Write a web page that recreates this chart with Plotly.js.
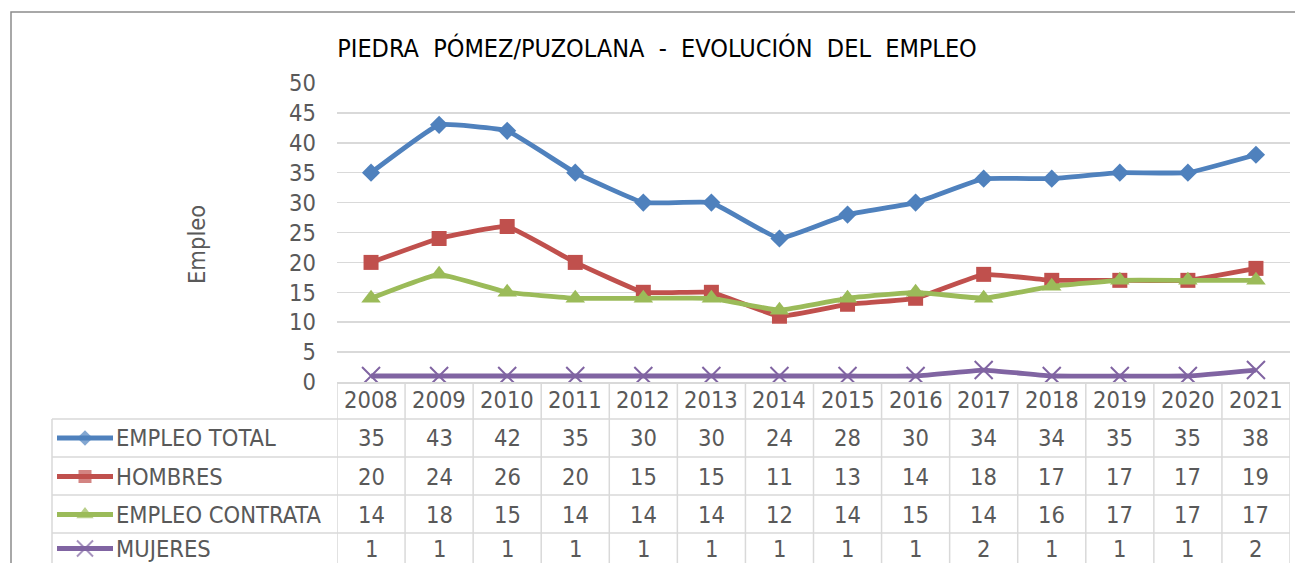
<!DOCTYPE html>
<html><head><meta charset="utf-8">
<script src="https://cdn.plot.ly/plotly-3.0.1.min.js"></script>
<style>html,body{margin:0;padding:0;background:#fff}</style>
</head><body><div id="chart" style="width:1295px;height:563px"></div>
<script>
const years = ['2008','2009','2010','2011','2012','2013','2014','2015','2016','2017','2018','2019','2020','2021'];
const empleoTotal    = [35,43,42,35,30,30,24,28,30,34,34,35,35,38];
const hombres        = [20,24,26,20,15,15,11,13,14,18,17,17,17,19];
const empleoContrata = [14,18,15,14,14,14,12,14,15,14,16,17,17,17];
const mujeres        = [1,1,1,1,1,1,1,1,1,2,1,1,1,2];
const seriesNames  = ['EMPLEO TOTAL','HOMBRES','EMPLEO CONTRATA','MUJERES'];
const seriesValues = [empleoTotal, hombres, empleoContrata, mujeres];
const seriesColors = ['#4f81bd','#c0504d','#9bbb59','#8064a2'];
const seriesSymbols = ['diamond','square','triangle-up','x-thin'];
const seriesSizes = [14,15,17,18];
const titleText = 'PIEDRA\u00a0 PÓMEZ/PUZOLANA\u00a0 -\u00a0 EVOLUCIÓN\u00a0 DEL\u00a0 EMPLEO';
const yTitle = 'Empleo';

const W = 1295, H = 563;
const plotL = 337, plotR = 1290, plotT = 83, plotB = 382;
const rowLines = [419, 457, 495, 533];
const rowCenters = [400, 438, 476.5, 514.5, 548.5];
const tableLeft = 52;
const FONT = '"DejaVu Sans Condensed", "DejaVu Sans", sans-serif';
const TXT = '#595959';
const GRID = '#d9d9d9';
const FS = 23.5;

const traces = [];
seriesNames.forEach((n, k) => {
  const isX = seriesSymbols[k] === 'x-thin';
  traces.push({
    x: years, y: seriesValues[k], name: n, type: 'scatter', mode: 'lines+markers',
    xaxis: 'x', yaxis: 'y',
    line: {color: seriesColors[k], width: 4.8, shape: 'spline', smoothing: 0.3},
    marker: {symbol: seriesSymbols[k], size: seriesSizes[k], color: seriesColors[k],
             line: isX ? {color: seriesColors[k], width: 2} : {width: 0}},
    showlegend: false, hoverinfo: 'x+y+name'
  });
  traces.push({
    x: [57, 85, 113], y: [rowCenters[k+1], rowCenters[k+1], rowCenters[k+1]],
    xaxis: 'x2', yaxis: 'y2', type: 'scatter', mode: 'lines+markers',
    line: {color: seriesColors[k], width: 4.8},
    marker: {symbol: seriesSymbols[k], size: [0, seriesSizes[k]-2, 0], color: seriesColors[k],
             line: isX ? {color: seriesColors[k], width: 2} : {width: 0}},
    showlegend: false, hoverinfo: 'skip'
  });
});

const shapes = [];
shapes.push({type:'rect', xref:'x2', yref:'y2', x0:11, x1:1300, y0:12, y1:570,
  line:{color:'#8c8c8c', width:1.5}, fillcolor:'rgba(0,0,0,0)', layer:'below'});
rowLines.forEach(y => shapes.push({type:'line', xref:'x2', yref:'y2', x0:tableLeft, x1:plotR, y0:y, y1:y,
  line:{color:GRID, width:1.5}}));
for (let i = 0; i <= years.length; i++) {
  shapes.push({type:'line', xref:'x', yref:'y2', x0:i-0.5, x1:i-0.5, y0:plotB, y1:H+5,
    line:{color:GRID, width:1.5}});
}
shapes.push({type:'line', xref:'x2', yref:'y2', x0:tableLeft, x1:tableLeft, y0:rowLines[0], y1:H+5,
  line:{color:GRID, width:1.5}});

const annotations = [];
years.forEach((yr, i) => {
  annotations.push({xref:'x', yref:'y2', x:i, y:rowCenters[0], text:yr, showarrow:false,
    font:{family:FONT, size:FS, color:TXT}, xanchor:'center', yanchor:'middle'});
  seriesValues.forEach((vals, k) => {
    annotations.push({xref:'x', yref:'y2', x:i, y:rowCenters[k+1], text:String(vals[i]), showarrow:false,
      font:{family:FONT, size:FS, color:TXT}, xanchor:'center', yanchor:'middle'});
  });
});
seriesNames.forEach((n, k) => {
  annotations.push({xref:'x2', yref:'y2', x:114, y:rowCenters[k+1], text:n, showarrow:false,
    font:{family:FONT, size:FS, color:TXT}, xanchor:'left', yanchor:'middle'});
});
annotations.push({xref:'x2', yref:'y2', x:197, y:245, text:yTitle, textangle:-90, showarrow:false,
  font:{family:FONT, size:FS, color:TXT}, xanchor:'center', yanchor:'middle'});

const layout = {
  width: W, height: H,
  margin: {l:0, r:0, t:0, b:0},
  paper_bgcolor: '#ffffff', plot_bgcolor: 'rgba(0,0,0,0)',
  title: {text: titleText, font:{family:FONT, size:25, color:'#000000'},
    x: 657/W, xref:'paper', xanchor:'center', y: 1-48/H, yref:'container', yanchor:'middle'},
  xaxis: {domain:[plotL/W, plotR/W], type:'category', range:[-0.5, years.length-0.5],
    showticklabels:false, ticks:'', showgrid:false, zeroline:false,
    showline:true, linecolor:GRID, linewidth:1.5, fixedrange:true},
  yaxis: {domain:[(H-plotB)/H, (H-plotT)/H], range:[0,50], dtick:5, tick0:0,
    showgrid:true, gridcolor:GRID, gridwidth:1.5, zeroline:false, showline:false, ticks:'',
    ticklabelstandoff: 20,
    tickfont:{family:FONT, size:FS, color:TXT}, fixedrange:true},
  xaxis2: {domain:[0,1], range:[0,W], visible:false, anchor:'y2', fixedrange:true},
  yaxis2: {domain:[0,1], range:[H,0], visible:false, anchor:'x2', fixedrange:true},
  shapes: shapes, annotations: annotations, showlegend:false
};
Plotly.newPlot('chart', traces, layout, {displayModeBar:false, staticPlot:true});
</script></body></html>
